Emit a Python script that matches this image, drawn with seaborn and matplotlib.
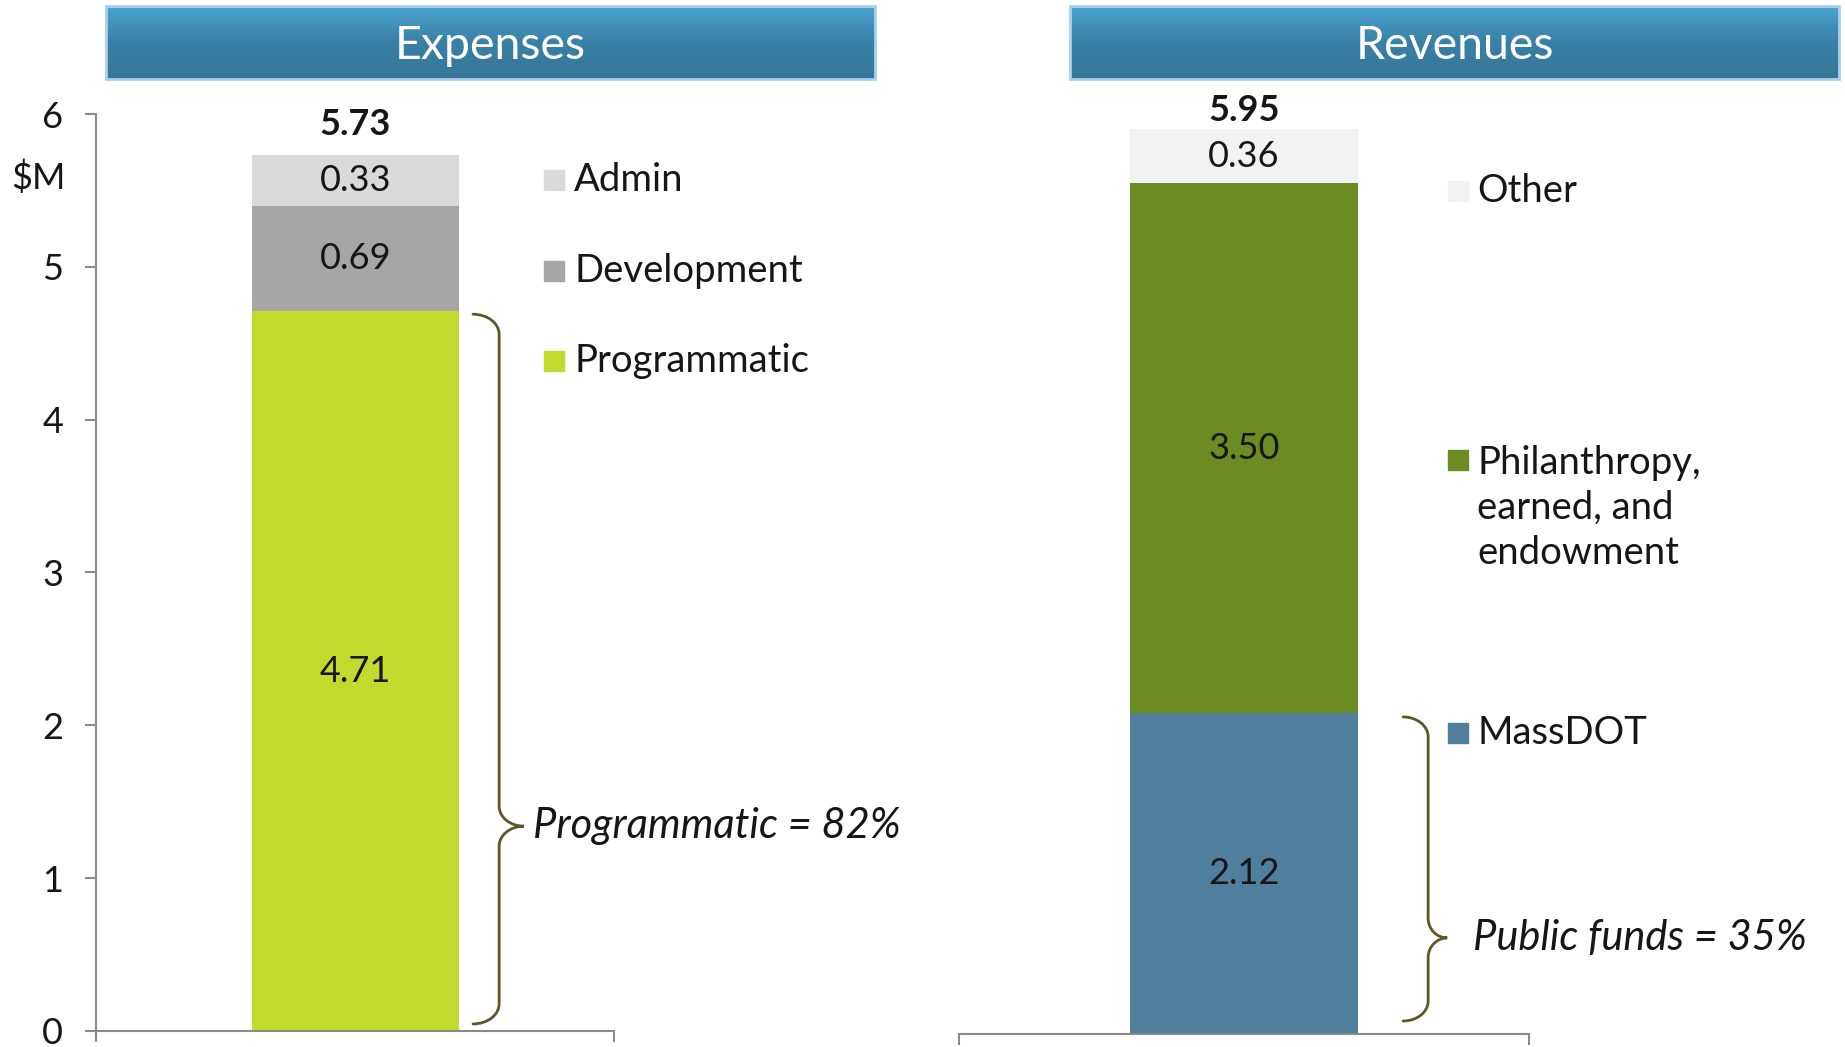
import numpy as np
import matplotlib
matplotlib.use('Agg')
import matplotlib.pyplot as plt
import seaborn as sns
from matplotlib.path import Path
from matplotlib.patches import PathPatch, Rectangle
from matplotlib.colors import LinearSegmentedColormap
import matplotlib.transforms as mtransforms

# data (bottom segment first)
exp_labels = ['Programmatic', 'Development', 'Admin']
exp_values = [4.71, 0.69, 0.33]
exp_colors = ['#c2d92e', '#a6a6a6', '#d9d9d9']
exp_total = 5.73

rev_labels = ['MassDOT', 'Philanthropy,\nearned, and\nendowment', 'Other']
rev_values = [2.12, 3.50, 0.36]
rev_colors = ['#507f9e', '#6c8b23', '#f2f2f2']
rev_total = 5.95

yticks = [0, 1, 2, 3, 4, 5, 6]

sns.set_style('white')
plt.rcParams['font.family'] = ['Lato', 'DejaVu Sans']

TXT = '#161616'
GRAY = '#8a8a8a'
BRACE = '#5c5628'
FS = 26
FS_LEG = 27.5

fig = plt.figure(figsize=(18.45, 10.47), dpi=100)

header_cmap = LinearSegmentedColormap.from_list('hdr', ['#4aa3d0', '#3980a6', '#357798'])


def header(rect, title):
    hax = fig.add_axes(rect)
    grad = np.linspace(0, 1, 200).reshape(-1, 1)
    hax.imshow(grad, aspect='auto', cmap=header_cmap, extent=[0, 1, 0, 1])
    hax.set_xlim(0, 1)
    hax.set_ylim(0, 1)
    hax.axis('off')
    hax.add_patch(Rectangle((0, 0), 1, 1, fill=False, edgecolor='#a8d0ea',
                            lw=2, transform=hax.transAxes, clip_on=False))
    hax.text(0.5, 0.45, title, color='white', fontsize=33.5, ha='center', va='center')


def brace(ax, x0, x1, x2, ybot, ytop, ytip, ry):
    k = 0.55
    verts = [
        (x0, ytop),
        (x0 + (x1 - x0) * k, ytop), (x1, ytop - ry * (1 - k)), (x1, ytop - ry),
        (x1, ytip + ry),
        (x1, ytip + ry * (1 - k)), (x1 + (x2 - x1) * (1 - k), ytip), (x2, ytip),
        (x1 + (x2 - x1) * (1 - k), ytip), (x1, ytip - ry * (1 - k)), (x1, ytip - ry),
        (x1, ybot + ry),
        (x1, ybot + ry * (1 - k)), (x0 + (x1 - x0) * k, ybot), (x0, ybot),
    ]
    codes = [Path.MOVETO,
             Path.CURVE4, Path.CURVE4, Path.CURVE4,
             Path.LINETO,
             Path.CURVE4, Path.CURVE4, Path.CURVE4,
             Path.CURVE4, Path.CURVE4, Path.CURVE4,
             Path.LINETO,
             Path.CURVE4, Path.CURVE4, Path.CURVE4]
    ax.add_patch(PathPatch(Path(verts, codes), fill=False, edgecolor=BRACE,
                           lw=2, clip_on=False, capstyle='round'))


def stacked(ax, name, values, colors, total, total_off):
    bottom = 0.0
    for v, c in zip(values, colors):
        sns.barplot(x=[name], y=[v], bottom=bottom, color=c, width=0.4,
                    saturation=1, errorbar=None, linewidth=0, ax=ax)
        ax.text(0, bottom + v / 2, f'{v:.2f}', ha='center', va='center',
                fontsize=FS, color=TXT)
        bottom += v
    ax.text(0, total + total_off, f'{total:.2f}', ha='center', va='center',
            fontsize=FS, fontweight='bold', color=TXT)
    ax.set_xlim(-0.5, 0.5)
    ax.set_ylim(0, 6)
    ax.set_xlabel('')
    ax.set_ylabel('')
    ax.set_xticks([-0.5, 0.5])
    ax.set_xticklabels([])
    ax.tick_params(axis='x', direction='out', length=8, width=1.5, color=GRAY,
                   bottom=True)
    ax.spines['bottom'].set_color(GRAY)
    ax.spines['bottom'].set_linewidth(1.5)
    for s in ['top', 'right']:
        ax.spines[s].set_visible(False)


def legend(ax, labels, colors, xs, xt, ys):
    for lab, c, y in zip(labels, colors, ys):
        ax.scatter([xs], [y], marker='s', s=200, color=c, clip_on=False, zorder=5)
        nlines = lab.count('\n') + 1
        if nlines == 1:
            ax.text(xt, y, lab, ha='left', va='center', fontsize=FS_LEG, color=TXT,
                    clip_on=False)
        else:
            ax.text(xt, y + 0.10, lab, ha='left', va='top', fontsize=FS_LEG,
                    color=TXT, linespacing=1.3, clip_on=False)


# left panel: Expenses
header([0.0575, 0.9245, 0.4168, 0.0697], 'Expenses')
ax1 = fig.add_axes([0.0523, 0.0153, 0.2805, 0.8758])
stacked(ax1, 'Expenses', exp_values, exp_colors, exp_total, 0.2)
ax1.set_yticks(yticks)
ax1.set_yticklabels([str(t) for t in yticks], fontsize=FS, color=TXT)
ax1.tick_params(axis='y', direction='out', length=8, width=1.5, color=GRAY,
                pad=16, left=True)
ax1.spines['left'].set_color(GRAY)
ax1.spines['left'].set_linewidth(1.5)
trans = mtransforms.blended_transform_factory(ax1.transAxes, ax1.transData)
ax1.text(-0.06, 5.58, '$M', transform=trans, ha='right', va='center',
         fontsize=FS, color=TXT)
legend(ax1, exp_labels, exp_colors, 0.384, 0.423, [4.385, 4.97, 5.57])
brace(ax1, 0.2275, 0.278, 0.326, 0.046, 4.69, 1.34, 0.13)
ax1.text(0.343, 1.34, 'Programmatic = 82%', style='italic', ha='left',
         va='center', fontsize=30, color=TXT, clip_on=False)

# right panel: Revenues
header([0.580, 0.9245, 0.4168, 0.0697], 'Revenues')
ax2 = fig.add_axes([0.520, 0.0124, 0.3085, 0.8673])
stacked(ax2, 'Revenues', rev_values, rev_colors, rev_total, 0.155)
ax2.set_yticks([])
ax2.spines['left'].set_visible(False)
legend(ax2, rev_labels, rev_colors, 0.376, 0.4096, [1.99, 3.79, 5.57])
brace(ax2, 0.2796, 0.3235, 0.357, 0.086, 2.095, 0.635, 0.13)
ax2.text(0.4026, 0.635, 'Public funds = 35%', style='italic', ha='left',
         va='center', fontsize=30, color=TXT, clip_on=False)

fig.savefig('out.png', dpi=100)
